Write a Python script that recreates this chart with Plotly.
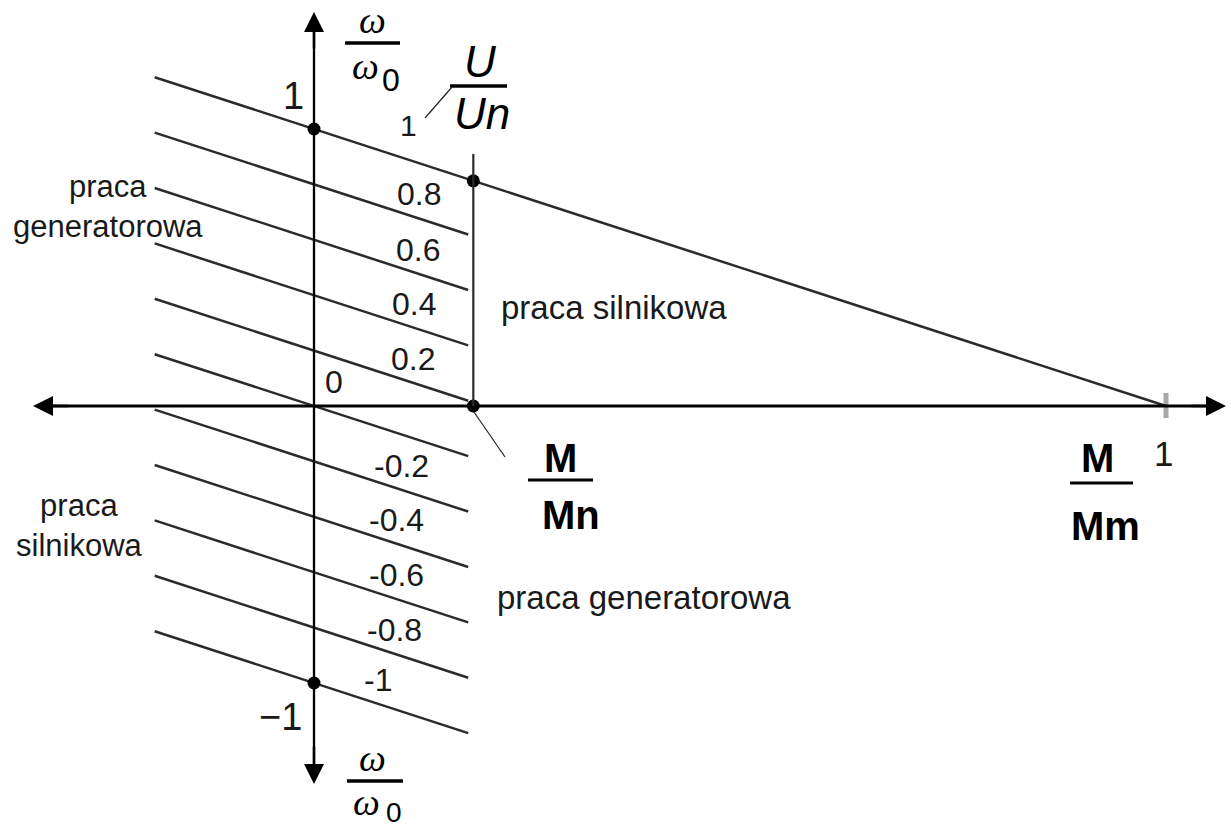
import plotly.graph_objects as go

# Supply-voltage levels U/Un of the family of mechanical characteristics
u_levels = [1, 0.8, 0.6, 0.4, 0.2, 0, -0.2, -0.4, -0.6, -0.8, -1]
u_labels = ["1", "0.8", "0.6", "0.4", "0.2", "0", "-0.2", "-0.4", "-0.6", "-0.8", "-1"]

# Torque range (in M/Mm units) covered by the short characteristic segments
m_start = -0.187
m_end_short = 0.181
m_end_full = 1.0
mn_ratio = 0.187          # rated torque Mn expressed as M/Mm
vline_top = 0.91          # top of the Mn marker line (omega/omega0)

# label anchors along each characteristic (M/Mm), for U/Un = 0.8 ... -1
label_m = [0.123, 0.122, 0.117, 0.116, 0.023, 0.103, 0.097, 0.097, 0.094, 0.075]

W, H = 1231, 831
X0, SX = 314, 852      # pixel of M=0, pixels per unit M/Mm
Y0, SY = 406, 277      # pixel of omega=0, pixels per unit omega/omega0

x_range = [-X0 / SX, (W - X0) / SX]
y_range = [-(H - Y0) / SY, Y0 / SY]


def dx(px):
    return (px - X0) / SX


def dy(py):
    return (Y0 - py) / SY


LINE = "#2b2b2b"
TXT = "#1a1a1a"
SANS = "Liberation Sans, Arial, sans-serif"
SERIF = "Liberation Serif, Times New Roman, serif"

fig = go.Figure()

# characteristic lines: omega/omega0 = U/Un - M/Mm
for u in u_levels:
    m_stop = m_end_full if u == 1 else m_end_short
    fig.add_trace(go.Scatter(
        x=[m_start, m_stop], y=[u - m_start, u - m_stop],
        mode="lines", line=dict(color=LINE, width=2.5),
        hoverinfo="skip", showlegend=False))

# marked points
pts_m = [0, mn_ratio, mn_ratio, 0]
pts_w = [1, 1 - mn_ratio, 0, -1]
fig.add_trace(go.Scatter(
    x=pts_m, y=pts_w, mode="markers",
    marker=dict(color="black", size=13),
    hoverinfo="skip", showlegend=False))

shapes = []
# tick at M/Mm = 1
shapes.append(dict(type="line", xref="x", yref="y", x0=1, x1=1,
                   y0=dy(418), y1=dy(393), line=dict(color="#a8a8a8", width=5),
                   layer="below"))
# axes
shapes.append(dict(type="line", xref="x", yref="y", x0=dx(40), x1=dx(1218),
                   y0=0, y1=0, line=dict(color="black", width=2.8)))
shapes.append(dict(type="line", xref="x", yref="y", x0=0, x1=0,
                   y0=dy(20), y1=dy(776), line=dict(color="black", width=2.3)))
# Mn marker line
shapes.append(dict(type="line", xref="x", yref="y", x0=mn_ratio, x1=mn_ratio,
                   y0=0, y1=vline_top, line=dict(color=LINE, width=2.2)))


def pline(x0, y0, x1, y1, w=1.2, color="#222"):
    shapes.append(dict(type="line", xref="paper", yref="paper",
                       x0=x0 / W, x1=x1 / W, y0=1 - y0 / H, y1=1 - y1 / H,
                       line=dict(color=color, width=w)))


# fraction bars
pline(345, 43, 400, 43, 3.5, "black")       # omega/omega0 top
pline(347, 781, 403, 781, 3.5, "black")     # omega/omega0 bottom
pline(450, 86, 507, 86, 3.5, "black")       # U/Un
pline(528, 480, 593, 480, 3, "black")       # M/Mn
pline(1070, 483, 1133, 483, 3, "black")     # M/Mm
# leader lines
pline(425, 118, 452, 87, 1.2)
pline(474, 412, 505, 457, 1.2)

annotations = []


def ptext(x, y, text, size, family=SANS, color=TXT, yanchor="middle"):
    annotations.append(dict(xref="paper", yref="paper", x=x / W, y=1 - y / H,
                            text=text, showarrow=False, xanchor="center",
                            yanchor=yanchor, align="center",
                            font=dict(size=size, family=family, color=color)))


# voltage labels along the characteristics
for u, lab, m in zip(u_levels[1:], u_labels[1:], label_m):
    annotations.append(dict(xref="x", yref="y", x=m, y=u - m, text=lab,
                            showarrow=False, xanchor="center", yanchor="middle",
                            yshift=30 if u == 0 else 24,
                            font=dict(size=32, family=SANS, color=TXT)))

# U=1 label
ptext(408, 126, "1", 30)

# axis value labels
ptext(293, 96, "1", 38)
ptext(280, 717, "\u22121", 38)
ptext(1163, 453, "1", 35)

# omega / omega0 fractions (numerator sits on the bar, denominator hangs below)
ptext(372, 43, "<i>\u03c9</i>", 38, SERIF, "black", "bottom")
ptext(365, 43, "<i>\u03c9</i>", 38, SERIF, "black", "top")
ptext(391, 80, "0", 32, SANS, "black")
ptext(372, 781, "<i>\u03c9</i>", 38, SERIF, "black", "bottom")
ptext(366, 779, "<i>\u03c9</i>", 38, SERIF, "black", "top")
ptext(394, 812, "0", 28, SANS, "black")

# U / Un fraction
ptext(480, 62, "<i>U</i>", 44, SANS, "black")
ptext(482, 114, "<i>Un</i>", 44, SANS, "black")

# M / Mn and M / Mm fractions
ptext(560, 458, "<b>M</b>", 40, SANS, "black")
ptext(571, 515, "<b>Mn</b>", 40, SANS, "black")
ptext(1097, 458, "<b>M</b>", 40, SANS, "black")
ptext(1105, 526, "<b>Mm</b>", 40, SANS, "black")

# operating regions
ptext(108, 206, "praca<br>generatorowa", 31)
ptext(614, 307, "praca silnikowa", 33)
ptext(80, 525, "praca<br>silnikowa", 31)
ptext(644, 597, "praca generatorowa", 33)

# arrowheads on the axes
for tip, base in [((dx(1226), 0), (dx(1190), 0)),
                  ((dx(33), 0), (dx(70), 0)),
                  ((0, dy(12)), (0, dy(50))),
                  ((0, dy(784)), (0, dy(745)))]:
    annotations.append(dict(xref="x", yref="y", axref="x", ayref="y",
                            x=tip[0], y=tip[1], ax=base[0], ay=base[1],
                            text="", showarrow=True, arrowhead=2,
                            arrowsize=1.6, arrowwidth=2.5, arrowcolor="black"))

fig.update_layout(
    width=W, height=H, margin=dict(l=0, r=0, t=0, b=0),
    paper_bgcolor="white", plot_bgcolor="white",
    xaxis=dict(range=x_range, visible=False, fixedrange=True),
    yaxis=dict(range=y_range, visible=False, fixedrange=True),
    shapes=shapes, annotations=annotations, showlegend=False,
)

fig.write_html("out.html")
